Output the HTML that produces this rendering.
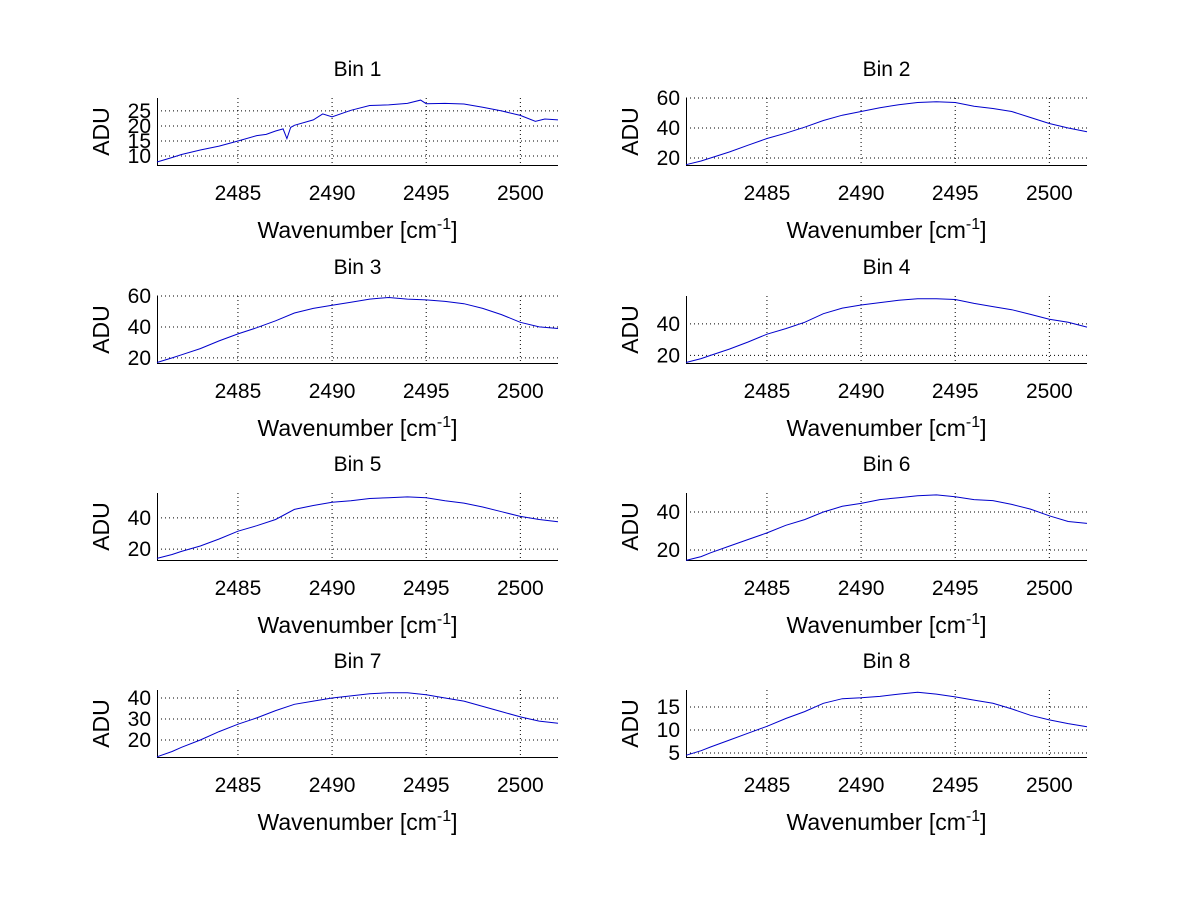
<!DOCTYPE html>
<html><head><meta charset="utf-8"><style>
html,body{margin:0;padding:0;background:#fff;width:1200px;height:901px;overflow:hidden}
svg{display:block;font-family:"Liberation Sans",Arial,sans-serif}
</style></head><body>
<svg id="fig" width="1200" height="901" viewBox="0 0 1200 901"></svg>
<script>
const titles=["Bin 1","Bin 2","Bin 3","Bin 4","Bin 5","Bin 6","Bin 7","Bin 8"];
const xTicks=[2485,2490,2495,2500];
const xRange=[2480.7,2502];
const yRanges=[[7,29.3],[15.3,60],[16.7,60],[15.2,57.7],[13,56],[14.7,50],[11.9,43.8],[4.13,18.7]];
const yTicks=[[10,15,20,25],[20,40,60],[20,40,60],[20,40],[20,40],[20,40],[20,30,40],[5,10,15]];
const xs1=[2480.7,2481.5,2482,2483,2484,2485,2486,2486.5,2487,2487.4,2487.6,2487.8,2488,2489,2489.5,2490,2491,2492,2493,2494,2494.7,2495,2496,2497,2498,2499,2500,2500.8,2501.3,2502];
const ys1=[8,9.5,10.5,12,13.3,15,16.8,17.2,18.3,19,15.8,19.5,20.2,22,24,23,25.2,26.8,27,27.5,28.6,27.4,27.5,27.3,26.2,25,23.5,21.5,22.3,22];
const xsStd=[2480.7,2481.5,2482,2483,2484,2485,2486,2487,2488,2489,2490,2491,2492,2493,2494,2495,2496,2497,2498,2499,2500,2501,2502];
const ys2=[15.5,18,20,24,28.5,33,36.5,40.5,45,48.5,51,53.5,55.5,57,57.5,57,54.5,53,51,47,43,40,37.5];
const ys3=[17,20,22,26,31,35.5,39.5,44,49,52,54,56,58,59,58,57.5,56.5,55,52,48,43,40,39];
const ys4=[15.5,18,20,24,28.5,33.5,37,41,46.5,50,52,53.5,55,56,56,55.5,53,51,49,46,43,41,38];
const ys5=[14,16.5,18.5,22,26.5,31.5,35,39,45.5,48,50,51,52.5,53,53.5,53,51,49.5,47,44,41,39,37.5];
const ys6=[14.5,16.5,18.5,22,25.5,29,33,36,40,43,44.5,46.5,47.5,48.5,49,48,46.5,46,44,41.5,38,35,34];
const ys7=[12,14.5,16.5,20,24,27.5,30.5,34,37,38.5,40,41,42,42.5,42.5,41.5,40,38.5,36,33.5,31,29,28];
const ys8=[4.5,5.5,6.3,7.8,9.3,10.8,12.5,14,15.8,16.8,17,17.3,17.8,18.2,17.8,17.2,16.5,15.8,14.6,13.2,12.2,11.4,10.7];
const seriesX=[xs1,xsStd,xsStd,xsStd,xsStd,xsStd,xsStd,xsStd];
const seriesY=[ys1,ys2,ys3,ys4,ys5,ys6,ys7,ys8];

const NS="http://www.w3.org/2000/svg";
const svg=document.getElementById('fig');
function mk(tag,attrs,parent){const e=document.createElementNS(NS,tag);for(const k in attrs)e.setAttribute(k,attrs[k]);(parent||svg).appendChild(e);return e;}
const colsX=[157,686], rowsY=[98,296,493,690], W=401, H=67;
for(let i=0;i<8;i++){
  const L=colsX[i%2], T=rowsY[Math.floor(i/2)], B=T+H, R=L+W;
  const g=mk('g',{});
  
  
  const [y0,y1]=yRanges[i];
  const sx=v=>L+(v-xRange[0])/(xRange[1]-xRange[0])*W;
  const sy=v=>B-(v-y0)/(y1-y0)*H;
  xTicks.forEach(t=>{const l=mk('line',{x1:sx(t),x2:sx(t),y1:T,y2:B,stroke:'#000','stroke-width':1,'stroke-dasharray':'1,3'},g);
    
    const tk=mk('text',{x:sx(t),y:B+35,'font-size':21,'text-anchor':'middle'},g);tk.textContent=t;
    });
  yTicks[i].forEach(t=>{const l=mk('line',{x1:L,x2:R,y1:sy(t),y2:sy(t),stroke:'#000','stroke-width':1,'stroke-dasharray':'1,3'},g);
    
    const tk=mk('text',{x:L-6,y:sy(t)+7,'font-size':21,'text-anchor':'end'},g);tk.textContent=t;
    });
  const ax=mk('path',{d:`M${L+0.5},${T} V${B+0.5} H${R}`,fill:'none',stroke:'#000','stroke-width':1,'shape-rendering':'crispEdges'},g);
  
  const xs=seriesX[i], ys=seriesY[i];
  let d='';xs.forEach((x,k)=>{d+=(k?'L':'M')+sx(x).toFixed(1)+','+sy(ys[k]).toFixed(1);});
  const p=mk('path',{d:d,fill:'none',stroke:'#0000cc','stroke-width':1},g);
  
  const ti=mk('text',{x:L+W/2,y:T-22,'font-size':21,'text-anchor':'middle'},g);ti.textContent=titles[i];
  
  const xl=mk('text',{x:L+W/2,y:B+73,'font-size':23,'text-anchor':'middle'},g);
  xl.innerHTML='Wavenumber [cm<tspan dy="-9" font-size="16">-1</tspan><tspan dy="9">]</tspan>';
  
  const yl=mk('text',{x:0,y:0,'font-size':23,'text-anchor':'middle',transform:`translate(${L-48},${T+H/2}) rotate(-90)`},g);yl.textContent='ADU';
  
}
</script>
</body></html>
